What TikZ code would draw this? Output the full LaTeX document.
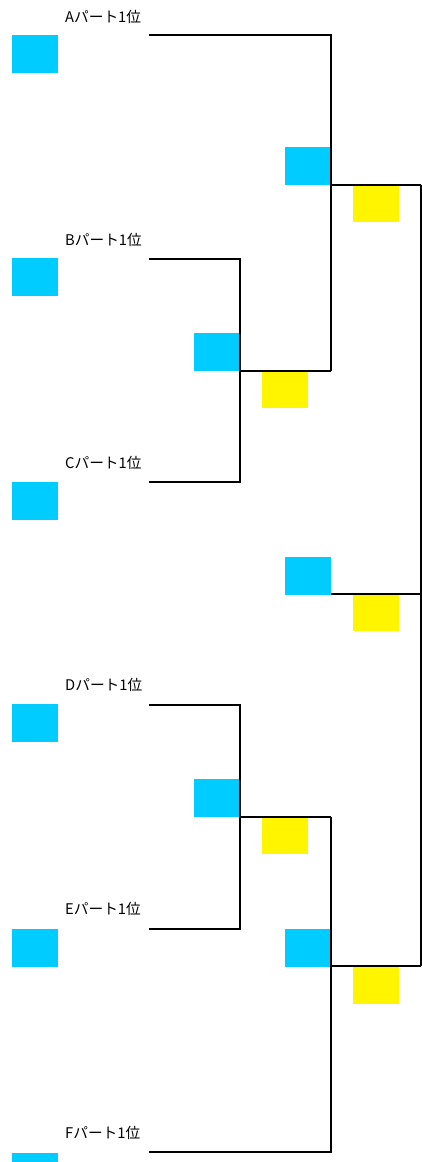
\documentclass[tikz,border=0pt]{standalone}
\usepackage{fontspec}
\newfontfamily\jpfont{Noto Sans CJK JP}
\definecolor{boxblue}{RGB}{0,204,255}
\definecolor{boxyellow}{RGB}{255,245,0}
\begin{document}
\begin{tikzpicture}[x=1pt,y=-1pt,
  bluebox/.style={fill=boxblue,draw=none,minimum width=46pt,minimum height=38pt,inner sep=0pt,anchor=north west},
  yellowbox/.style={fill=boxyellow,draw=none,minimum width=46pt,minimum height=37pt,inner sep=0pt,anchor=north west},
  lbl/.style={font=\jpfont\fontsize{14.7}{16}\selectfont,anchor=west,inner sep=0pt},
  wire/.style={line width=2pt,line join=miter}]
\useasboundingbox (0,0) rectangle (422,1162);
% labels
\node[lbl] (la) at (65,16.5) {Aパート1位};
\node[lbl] (lb) at (65,240) {Bパート1位};
\node[lbl] (lc) at (65,463) {Cパート1位};
\node[lbl] (ld) at (65,685) {Dパート1位};
\node[lbl] (le) at (65,909) {Eパート1位};
\node[lbl] (lf) at (65,1133) {Fパート1位};
% left blue boxes
\node[bluebox] (ba) at (12,35) {};
\node[bluebox] (bb) at (12,258) {};
\node[bluebox] (bc) at (12,482) {};
\node[bluebox] (bd) at (12,704) {};
\node[bluebox] (be) at (12,929) {};
\node[bluebox] (bf) at (12,1153) {};
% round boxes
\node[bluebox] (bbc) at (194,333) {};
\node[yellowbox] (ybc) at (262,371) {};
\node[bluebox] (babc) at (285,147) {};
\node[yellowbox] (yabc) at (353,185) {};
\node[bluebox] (bfin) at (285,557) {};
\node[yellowbox] (yfin) at (353,594) {};
\node[bluebox] (bde) at (194,779) {};
\node[yellowbox] (yde) at (262,817) {};
\node[bluebox] (bdef) at (285,929) {};
\node[yellowbox] (ydef) at (353,967) {};
% wire coordinates
\coordinate (sa) at (149,34.5);
\coordinate (sb) at (149,259);
\coordinate (sc) at (149,482);
\coordinate (sd) at (149,704.5);
\coordinate (se) at (149,929);
\coordinate (sf) at (149,1151.5);
\coordinate (jbc) at (240,371);
\coordinate (jde) at (240,816.5);
\coordinate (jabc) at (331,184.7);
\coordinate (jdef) at (331,966);
\coordinate (jfin) at (421,594);
% wires
\draw[wire] (sb) -| (jbc) |- (sc);
\draw[wire] (jbc) -- (331,371);
\draw[wire] (sa) -| (331,371);
\draw[wire] (jabc) -- (421,184.7);
\draw[wire] (sd) -| (jde) |- (se);
\draw[wire] (jde) -- (331,816.5);
\draw[wire] (sf) -| (331,816.5);
\draw[wire] (jdef) -- (421,966);
\draw[wire] (421,184.7) -- (421,966);
\draw[wire] (jfin) -- (331,594);
\end{tikzpicture}
\end{document}
